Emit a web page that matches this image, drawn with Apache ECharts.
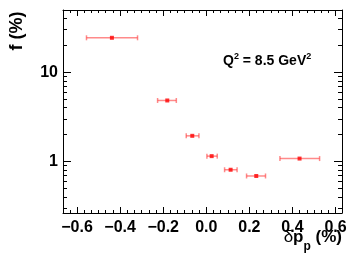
<!DOCTYPE html>
<html><head><meta charset="utf-8">
<script src="https://cdn.jsdelivr.net/npm/echarts@6/dist/echarts.min.js"></script>
<style>html,body{margin:0;padding:0;background:#fff}#c{width:353px;height:260px}</style>
</head><body><div id="c"></div>
<script>
// data
const xVals   = [-0.438, -0.181, -0.065, 0.025, 0.113, 0.232, 0.433];
const yVals   = [24.2, 4.82, 1.94, 1.15, 0.81, 0.69, 1.08];
const xErrLo  = [-0.556, -0.226, -0.093, 0.003, 0.085, 0.187, 0.342];
const xErrHi  = [-0.319, -0.139, -0.034, 0.051, 0.143, 0.275, 0.526];
const xTickLabels = [-0.6, -0.4, -0.2, 0.0, 0.2, 0.4, 0.6];
const xMinorTicks = [];
for (let i = -20; i <= 18; i++) xMinorTicks.push(+(i / 30).toFixed(4));
const yTickLabels = [1, 10];
const yMinorTicks = [0.3,0.4,0.5,0.6,0.7,0.8,0.9,2,3,4,5,6,7,8,9,20,30,40];

const XMIN = -0.665, XMAX = 0.63, YMIN = 0.266, YMAX = 49.5;
const FONT = '"Liberation Sans", Arial, sans-serif';

function xAx(pos, custom, len, showLabel, showLine) {
  return {
    type: 'value', position: pos, min: XMIN, max: XMAX,
    axisLine: { show: showLine, onZero: false, lineStyle: { color: '#000', width: 1 } },
    axisTick: { show: true, inside: true, length: len, customValues: custom, lineStyle: { color: '#000', width: 1 } },
    axisLabel: { show: showLabel, customValues: xTickLabels, margin: 7,
      fontFamily: FONT, fontWeight: 'bold', fontSize: 16, color: '#000',
      formatter: v => v.toFixed(1).replace('-', '\u2212').replace('\u22120.0', '0.0') },
    splitLine: { show: false }
  };
}
function yAx(pos, custom, len, showLabel, showLine) {
  return {
    type: 'log', logBase: 10, position: pos, min: YMIN, max: YMAX,
    axisLine: { show: showLine, onZero: false, lineStyle: { color: '#000', width: 1 } },
    axisTick: { show: true, inside: true, length: len, customValues: custom, lineStyle: { color: '#000', width: 1 } },
    axisLabel: { show: showLabel, customValues: yTickLabels, margin: 5,
      fontFamily: FONT, fontWeight: 'bold', fontSize: 16, color: '#000',
      formatter: v => String(Math.round(v)) },
    splitLine: { show: false }
  };
}

const chart = echarts.init(document.getElementById('c'), null, { renderer: 'canvas' });
chart.setOption({
  animation: false,
  backgroundColor: '#fff',
  grid: { left: 63, right: 11, top: 10, bottom: 47 },
  xAxis: [
    xAx('bottom', xTickLabels, 6, true, true),
    xAx('bottom', xMinorTicks, 3, false, false),
    xAx('top', xTickLabels, 6, false, true),
    xAx('top', xMinorTicks, 3, false, false)
  ],
  yAxis: [
    yAx('left', yTickLabels, 8, true, true),
    yAx('left', yMinorTicks, 4, false, false),
    yAx('right', yTickLabels, 8, false, true),
    yAx('right', yMinorTicks, 4, false, false)
  ],
  series: [
    {
      type: 'custom', xAxisIndex: 0, yAxisIndex: 0,
      data: xVals.map((x, i) => [xErrLo[i], xErrHi[i], yVals[i]]),
      renderItem: function (params, api) {
        const a = api.coord([api.value(0), api.value(2)]);
        const b = api.coord([api.value(1), api.value(2)]);
        const st = { stroke: 'rgba(255,60,60,0.6)', lineWidth: 1.5 };
        return { type: 'group', children: [
          { type: 'line', shape: { x1: a[0], y1: a[1], x2: b[0], y2: b[1] }, style: st },
          { type: 'line', shape: { x1: a[0], y1: a[1] - 2.5, x2: a[0], y2: a[1] + 2.5 }, style: st },
          { type: 'line', shape: { x1: b[0], y1: b[1] - 2.5, x2: b[0], y2: b[1] + 2.5 }, style: st }
        ]};
      },
      z: 2
    },
    {
      type: 'scatter', xAxisIndex: 0, yAxisIndex: 0,
      symbol: 'rect', symbolSize: 4,
      itemStyle: { color: '#ff0000' },
      data: xVals.map((x, i) => [x, yVals[i]]),
      z: 3
    }
  ],
  graphic: [
    { type: 'text', left: 223, top: 52,
      style: { text: '{a|Q}{s|2}{a| = 8.5 GeV}{s|2}', fill: '#000',
        rich: {
          a: { fontFamily: FONT, fontWeight: 'bold', fontSize: 14, lineHeight: 16, verticalAlign: 'bottom' },
          s: { fontFamily: FONT, fontWeight: 'bold', fontSize: 9, lineHeight: 16, verticalAlign: 'top' }
        } } },
    { type: 'text', right: 11, top: 229,
      style: { text: '{d|\u03B4}{a|p}{s|p}{a| (%)}', fill: '#000',
        rich: {
          d: { fontFamily: FONT, fontWeight: 'normal', fontSize: 17, lineHeight: 20, verticalAlign: 'top' },
          a: { fontFamily: FONT, fontWeight: 'bold', fontSize: 17, lineHeight: 20, verticalAlign: 'top' },
          s: { fontFamily: FONT, fontWeight: 'bold', fontSize: 12, lineHeight: 12, padding: [12, 0, 0, 0], verticalAlign: 'top' }
        } } },
    { type: 'text', x: 17, y: 31, rotation: Math.PI / 2,
      style: { text: 'f (%)', fill: '#000', fontFamily: FONT, fontWeight: 'bold', fontSize: 18,
        align: 'center', verticalAlign: 'middle' } }
  ]
});
</script></body></html>
